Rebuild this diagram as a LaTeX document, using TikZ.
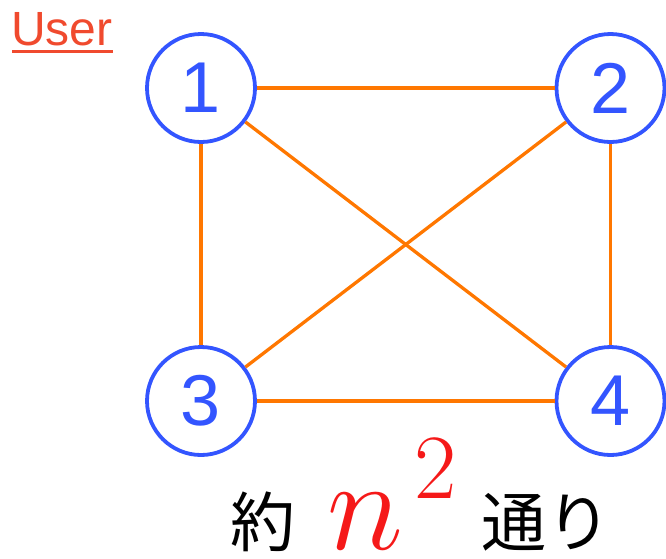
\RequirePackage{fix-cm}
\documentclass[tikz,border=0pt]{standalone}
\usepackage{fontspec}
\setmainfont{Liberation Sans}
\newfontfamily\jpfont{Noto Sans CJK JP}
\definecolor{nodeblue}{RGB}{51,85,255}
\definecolor{edgeorange}{RGB}{255,119,0}
\definecolor{userred}{RGB}{240,74,46}
\definecolor{mathred}{RGB}{245,25,25}
\begin{document}
\begin{tikzpicture}[x=1pt,y=-1pt,
  usernode/.style={circle,draw=nodeblue,line width=3.8pt,fill=white,minimum size=108pt,inner sep=0pt,
    text=nodeblue,font=\fontsize{72}{72}\selectfont},
  edge/.style={draw=edgeorange,line width=3.3pt}]
\useasboundingbox (0,0) rectangle (666,558);
\node[usernode] (n1) at (201,88) {1};
\node[usernode] (n2) at (610.5,88) {2};
\node[usernode] (n3) at (201,401) {3};
\node[usernode] (n4) at (610.5,401) {4};
\draw[edge] (n1) -- (n2);
\draw[edge] (n1) -- (n3);
\draw[edge] (n2) -- (n4);
\draw[edge] (n3) -- (n4);
\draw[edge] (n1) -- (n4);
\draw[edge] (n2) -- (n3);
\node[anchor=base west,inner sep=0pt,text=userred,font=\fontsize{48}{48}\selectfont] (user) at (11,45) {User};
\draw[userred,line width=3pt] (user.base west) ++(1,6.5) coordinate (ul1) -- (ul1 -| user.base east);
\node[anchor=base,inner sep=0pt,font=\jpfont\fontsize{65}{65}\selectfont] (yaku) at (262.5,546) {約};
\node[anchor=base west,inner sep=0pt,text=mathred,font=\fontsize{130}{130}\selectfont] (nvar) at (327,549) {$n$};
\node[anchor=base west,inner sep=0pt,text=mathred,font=\fontsize{92}{92}\selectfont] (sq) at (414,498) {$2$};
\node[anchor=base,inner sep=0pt,font=\jpfont\fontsize{65}{65}\selectfont] (toori) at (546.5,546) {通り};
\end{tikzpicture}
\end{document}
